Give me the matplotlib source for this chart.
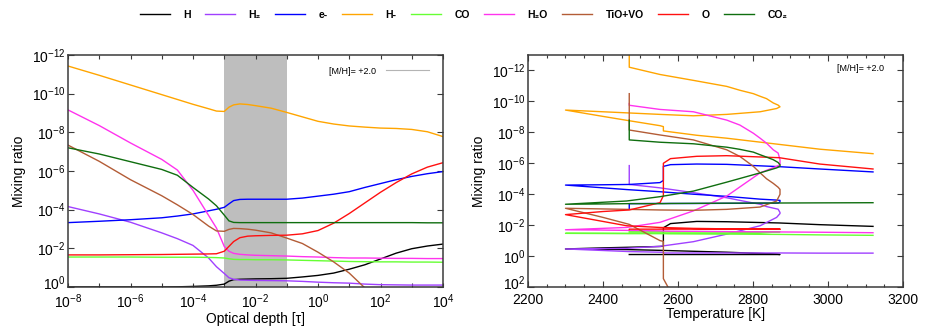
"""
Mixing ratios of the main species versus optical depth and temperature,
[M/H] = +2.0 model.
"""

import matplotlib
matplotlib.use("Agg")
import matplotlib.pyplot as plt
from matplotlib.ticker import MultipleLocator, NullLocator
from matplotlib.transforms import ScaledTranslation
import numpy as np

plt.rcParams['font.family'] = ['Liberation Sans', 'DejaVu Sans']
plt.rcParams['mathtext.fontset'] = 'custom'
plt.rcParams['mathtext.rm'] = 'Liberation Sans'
plt.rcParams['mathtext.it'] = 'Liberation Sans:italic'
plt.rcParams['mathtext.bf'] = 'Liberation Sans:bold'

species = ['H', 'H₂', 'e-', 'H-', 'CO', 'H₂O', 'TiO+VO', 'O', 'CO₂']
colors = ['#000000', '#a040ff', '#0000ff', '#ffa500', '#66ff33',
          '#ff33ee', '#b35c36', '#ff1010', '#0f6e0f']

# left panel: log10(tau) grid and log10(mixing ratio) per species
log_tau = [-8, -7, -6, -5, -4.5, -4, -3.5, -3.25, -3, -2.85, -2.7, -2.5, -2.25,
           -2, -1.5, -1, -0.5, 0, 0.5, 1, 1.5, 2, 2.5, 3, 3.5, 4]
tau_h = [0.0, 0.0, 0.0, 0.0, -0.01, -0.03, -0.06, -0.09, -0.15, -0.3, -0.38, -0.4, -0.41,
         -0.42, -0.43, -0.45, -0.52, -0.6, -0.72, -0.92, -1.15, -1.45, -1.75, -1.98, -2.12, -2.22]
tau_h2 = [-4.16, -3.78, -3.35, -2.8, -2.5, -2.15, -1.5, -1.05, -0.7, -0.48, -0.4, -0.36, -0.35,
          -0.34, -0.33, -0.32, -0.29, -0.25, -0.22, -0.2, -0.15, -0.12, -0.11, -0.1, -0.1, -0.1]
tau_e = [-3.33, -3.4, -3.48, -3.58, -3.67, -3.78, -3.94, -4.02, -4.12, -4.3, -4.47, -4.53, -4.54,
         -4.54, -4.54, -4.54, -4.6, -4.7, -4.8, -4.93, -5.15, -5.35, -5.55, -5.72, -5.86, -5.97]
tau_hm = [-11.43, -10.95, -10.45, -9.95, -9.7, -9.45, -9.22, -9.1, -9.08, -9.3, -9.42, -9.47, -9.44,
          -9.38, -9.25, -9.03, -8.8, -8.57, -8.43, -8.33, -8.27, -8.22, -8.2, -8.15, -8.03, -7.78]
tau_co = [-1.55, -1.55, -1.55, -1.54, -1.54, -1.54, -1.53, -1.52, -1.5, -1.46, -1.43, -1.42, -1.42,
          -1.41, -1.41, -1.4, -1.38, -1.36, -1.34, -1.32, -1.31, -1.3, -1.3, -1.29, -1.29, -1.28]
tau_h2o = [-9.16, -8.35, -7.45, -6.6, -6.05, -5.0, -3.7, -3.05, -2.1, -1.85, -1.74, -1.69, -1.66,
           -1.64, -1.62, -1.6, -1.57, -1.55, -1.52, -1.5, -1.5, -1.49, -1.48, -1.48, -1.47, -1.47]
tau_tio = [-7.34, -6.5, -5.55, -4.72, -4.25, -3.75, -3.15, -2.9, -2.88, -2.98, -3.03, -3.02, -2.99,
           -2.94, -2.8, -2.53, -2.25, -1.8, -1.3, -0.72, 0.05, 0.8, np.nan, np.nan, np.nan, np.nan]
tau_o = [-1.66, -1.66, -1.67, -1.68, -1.69, -1.7, -1.71, -1.72, -1.85, -2.1, -2.35, -2.55, -2.63,
         -2.65, -2.67, -2.68, -2.75, -2.92, -3.3, -3.8, -4.35, -4.9, -5.4, -5.85, -6.2, -6.43]
tau_co2 = [-7.2, -6.88, -6.48, -6.08, -5.78, -5.15, -4.55, -4.2, -3.72, -3.42, -3.34, -3.33, -3.33,
           -3.33, -3.33, -3.33, -3.33, -3.33, -3.33, -3.33, -3.33, -3.33, -3.33, -3.33, -3.32, -3.32]

# right panel: temperature along the profile (top to bottom) and log10(mixing ratio)
temp = [2470, 2470, 2552, 2641, 2730, 2765, 2801, 2819, 2836, 2854, 2867, 2872, 2872, 2863,
        2819, 2730, 2641, 2552, 2463, 2300, 2400, 2470, 2552, 2561, 2561, 2580, 2650, 2730,
        2870, 2978, 3120]
t_h = [-0.1, -0.1, -0.1, -0.1, -0.1, -0.1, -0.1, -0.1, -0.1, -0.1, -0.1, -0.1, -0.1, -0.12,
       -0.17, -0.25, -0.31, -0.37, -0.42, -0.46, -0.53, -0.57, -0.62, -0.64, -1.83, -2.1, -2.24,
       -2.22, -2.14, -2.03, -1.92]
t_h2 = [-5.85, -4.63, -4.41, -4.1, -3.77, -3.6, -3.43, -3.35, -3.2, -3.1, -3.03, -2.82, -2.75,
        -2.5, -1.96, -1.42, -0.93, -0.63, -0.5, -0.46, -0.36, -0.29, -0.25, -0.24, -0.2, -0.2,
        -0.2, -0.2, -0.2, -0.19, -0.19]
t_e = [-3.06, -3.39, -3.4, -3.4, -3.41, -3.41, -3.42, -3.42, -3.42, -3.42, -3.43, -3.5, -3.6,
       -3.62, -3.68, -3.86, -4.0, -4.16, -4.3, -4.59, -4.61, -4.63, -4.75, -4.89, -5.8, -5.91,
       -5.95, -5.93, -5.78, -5.63, -5.44]
t_hm = [-13.6, -12.21, -11.74, -11.36, -10.97, -10.72, -10.5, -10.33, -10.18, -9.9, -9.76,
        -9.65, -9.65, -9.54, -9.33, -9.16, -9.07, -9.16, -9.26, -9.44, -9.03, -8.75, -8.43,
        -8.37, -8.09, -8.03, -7.81, -7.62, -7.22, -6.91, -6.62]
t_co = [-1.57, -1.57, -1.57, -1.57, -1.57, -1.57, -1.57, -1.57, -1.57, -1.57, -1.57, -1.57,
        -1.57, -1.55, -1.5, -1.47, -1.47, -1.47, -1.47, -1.47, -1.46, -1.45, -1.45, -1.45,
        -1.45, -1.44, -1.43, -1.42, -1.4, -1.37, -1.34]
t_h2o = [-9.86, -9.75, -9.48, -9.33, -8.79, -8.47, -7.94, -7.62, -7.3, -6.87, -6.66, -6.23,
         -5.9, -5.8, -5.38, -3.88, -2.92, -2.18, -1.85, -1.7, -1.68, -1.66, -1.63, -1.62, -1.62,
         -1.61, -1.6, -1.58, -1.56, -1.54, -1.51]
t_tio = [-10.5, -8.15, -7.83, -7.51, -6.87, -6.44, -5.8, -5.38, -5.0, -4.7, -4.45, -4.31,
         -3.99, -3.56, -3.17, -3.02, -2.96, -2.98, -3.02, -3.09, -2.5, -2.05, -1.0, -0.95, 1.46,
         2.3, np.nan, np.nan, np.nan, np.nan, np.nan]
t_o = [-1.72, -1.74, -1.74, -1.74, -1.74, -1.74, -1.74, -1.74, -1.74, -1.74, -1.74, -1.74,
       -1.74, -1.74, -1.75, -1.76, -1.79, -1.85, -1.96, -2.68, -2.88, -2.98, -3.45, -3.9, -6.0,
       -6.3, -6.45, -6.49, -6.36, -5.95, -5.63]
t_co2 = [-8.79, -7.51, -7.36, -7.26, -7.04, -6.9, -6.72, -6.55, -6.4, -6.23, -6.05, -5.9, -5.8,
         -5.7, -5.38, -4.78, -4.2, -3.84, -3.56, -3.35, -3.37, -3.39, -3.39, -3.39, -3.39, -3.4,
         -3.41, -3.42, -3.43, -3.44, -3.45]

tau_series = [tau_h, tau_h2, tau_e, tau_hm, tau_co, tau_h2o, tau_tio, tau_o, tau_co2]
temp_series = [t_h, t_h2, t_e, t_hm, t_co, t_h2o, t_tio, t_o, t_co2]

metallicity = '[M/H]= +2.0'
band = (1e-3, 1e-1)


def pow10_label(e):
    return r'$10^{%d}$' % e


def style_axes(ax):
    for sp in ax.spines.values():
        sp.set_color('#3a3a3a')
        sp.set_linewidth(1.1)
    ax.tick_params(which='both', direction='in', top=True, right=True,
                   colors='#3a3a3a', labelcolor='black', labelsize=10, width=0.8)
    ax.tick_params(axis='y', which='major', length=4.5, pad=2)
    ax.set_ylabel('Mixing ratio', fontsize=10)


def lift_bottom_label(ax):
    # the lowest y label sits a little above its tick, clear of the x labels
    lbl = ax.get_yticklabels()[-1]
    lbl.set_transform(lbl.get_transform() + ScaledTranslation(0, 3.5 / 72, fig.dpi_scale_trans))


fig = plt.figure(figsize=(9.27, 3.27), dpi=100)
ax1 = fig.add_axes([68 / 927, 40 / 327, 375 / 927, 232 / 327])
ax2 = fig.add_axes([528 / 927, 40 / 327, 375 / 927, 232 / 327])

# optical depth panel
tau = 10.0 ** np.array(log_tau)
ax1.axvspan(band[0], band[1], color='#bebebe', lw=0, zorder=0)
lines = []
for name, col, vals in zip(species, colors, tau_series):
    ln, = ax1.plot(tau, 10.0 ** np.array(vals), color=col, lw=1.0, label=name)
    lines.append(ln)
ax1.set_xscale('log')
ax1.set_yscale('log')
ax1.set_xlim(1e-8, 1e4)
ax1.set_ylim(1e0, 1e-12)
xexp = list(range(-8, 5))
ax1.set_xticks([10.0 ** e for e in xexp])
ax1.set_xticklabels([pow10_label(e) if e % 2 == 0 else '' for e in xexp])
yexp = list(range(-12, 1, 2))
ax1.set_yticks([10.0 ** e for e in yexp])
ax1.set_yticklabels([pow10_label(e) for e in yexp])
ax1.xaxis.set_minor_locator(NullLocator())
ax1.yaxis.set_minor_locator(NullLocator())
style_axes(ax1)
ax1.tick_params(axis='x', which='major', length=3, pad=4)
ax1.set_xlabel('Optical depth [τ]', fontsize=10, labelpad=0.5)
mh, = ax1.plot([], [], color='#b4b4b4', lw=0.8, label=metallicity)
ax1.legend(handles=[mh], loc='upper right', frameon=False, fontsize=6.5,
           markerfirst=False, handlelength=4.8, handletextpad=1.1,
           bbox_to_anchor=(0.985, 0.985))

# temperature panel
for name, col, vals in zip(species, colors, temp_series):
    ax2.plot(temp, 10.0 ** np.array(vals), color=col, lw=1.0)
ax2.set_yscale('log')
ax2.set_xlim(2200, 3200)
ax2.set_ylim(1e2, 1e-13)
ax2.xaxis.set_major_locator(MultipleLocator(200))
ax2.xaxis.set_minor_locator(MultipleLocator(50))
yexp2 = list(range(-12, 3, 2))
ax2.set_yticks([10.0 ** e for e in yexp2])
ax2.set_yticklabels([pow10_label(e) for e in yexp2])
ax2.yaxis.set_minor_locator(NullLocator())
style_axes(ax2)
ax2.tick_params(axis='x', which='major', length=4, pad=4)
ax2.tick_params(axis='x', which='minor', length=2.5)
ax2.set_xlabel('Temperature [K]', fontsize=10, labelpad=0.5)
ax2.text(0.95, 0.94, metallicity, transform=ax2.transAxes, fontsize=6.5,
         ha='right', va='center')

lift_bottom_label(ax1)
lift_bottom_label(ax2)

fig.legend(handles=lines, loc='center', bbox_to_anchor=(0.5, 0.955), ncol=9,
           frameon=False, prop={'size': 7.5, 'weight': 'bold'},
           handlelength=2.9, handletextpad=1.3, columnspacing=1.35)

fig.savefig('out.png', dpi=100)
